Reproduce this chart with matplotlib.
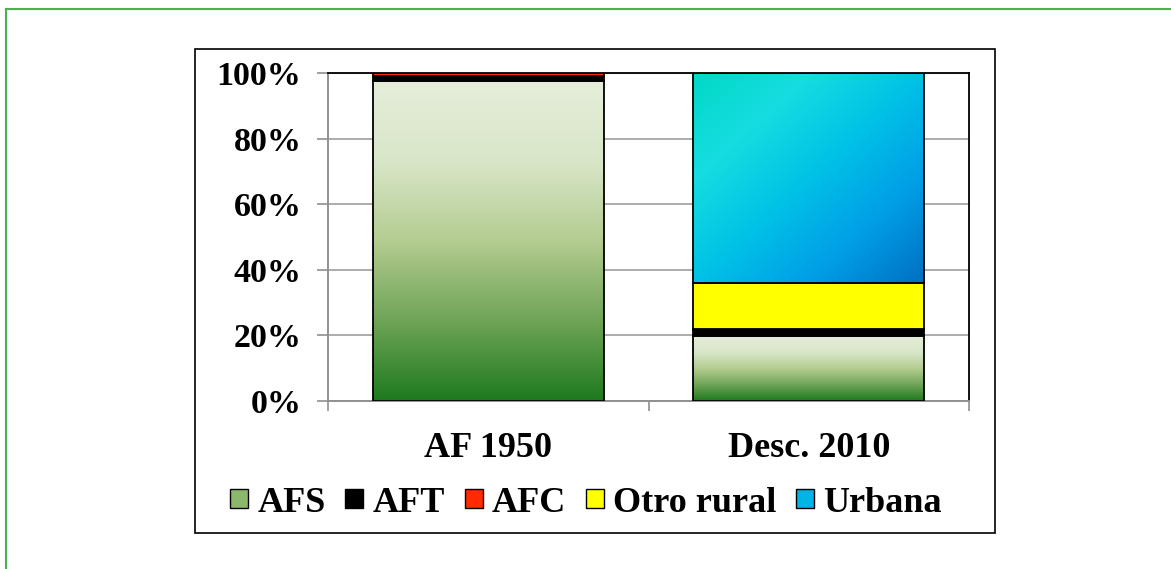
import numpy as np
import matplotlib
matplotlib.use("Agg")
import matplotlib.pyplot as plt
from matplotlib.colors import LinearSegmentedColormap
from matplotlib.patches import Patch, Rectangle
from matplotlib.lines import Line2D

# data (percent of total)
categorias = ["AF 1950", "Desc. 2010"]
afs = [97.5, 19.8]
aft = [1.5, 1.9]
afc = [1.0, 0.4]
otro_rural = [0.0, 13.8]
urbana = [0.0, 64.1]

series = ["AFS", "AFT", "AFC", "Otro rural", "Urbana"]
yticks = [0, 20, 40, 60, 80, 100]

plt.rcParams["font.family"] = ["Liberation Serif", "DejaVu Serif"]
plt.rcParams["font.weight"] = "bold"
fs = 24.5
fs_big = 26

fig = plt.figure(figsize=(11.71, 5.69), dpi=100)

# outer green frame (only left and top visible) and inner black box
fig.add_artist(Line2D([6 / 1171, 6 / 1171], [0, 1 - 9 / 569], color="#4cb050", lw=1.5,
                      transform=fig.transFigure))
fig.add_artist(Line2D([6 / 1171, 1], [1 - 9 / 569, 1 - 9 / 569], color="#4cb050", lw=1.5,
                      transform=fig.transFigure))
fig.add_artist(Rectangle((195 / 1171, 1 - 533 / 569), 800 / 1171, 484 / 569, fill=False,
                         edgecolor="black", lw=1.2, transform=fig.transFigure))

ax = fig.add_axes([328 / 1171, 1 - 401 / 569, 641 / 1171, 328 / 569])

x = np.arange(len(categorias))
w = 0.72
afs_cmap = LinearSegmentedColormap.from_list("afs", ["#1e7a1e", "#6fa457", "#b4cc90", "#d8e6c8", "#e6eeda"])
urb_cmap = LinearSegmentedColormap.from_list("urb", ["#00d9c6", "#16dde0", "#00c2e6", "#009ee6", "#0070c2"])

bottom = np.zeros(len(categorias))
colors = {"AFT": "#000000", "AFC": "#ff2a00", "Otro rural": "#ffff00"}
for name, vals in zip(series, [afs, aft, afc, otro_rural, urbana]):
    vals = np.array(vals)
    fc = colors.get(name, "none")
    bars = ax.bar(x, vals, w, bottom=bottom, facecolor=fc, edgecolor="black", lw=1.3, zorder=3)
    if name in ("AFS", "Urbana"):
        for b in bars:
            if b.get_height() <= 0:
                continue
            x0, y0 = b.get_x(), b.get_y()
            x1, y1 = x0 + b.get_width(), y0 + b.get_height()
            if name == "AFS":
                grad = np.linspace(0, 1, 256).reshape(-1, 1)
                im = ax.imshow(grad, cmap=afs_cmap, origin="lower", extent=(x0, x1, y0, y1),
                               aspect="auto", zorder=2, interpolation="bilinear")
            else:
                gx, gy = np.meshgrid(np.linspace(0, 1, 200), np.linspace(0, 1, 200))
                grad = (gx + (1 - gy)) / 2
                im = ax.imshow(grad, cmap=urb_cmap, origin="lower", extent=(x0, x1, y0, y1),
                               aspect="auto", zorder=2, interpolation="bilinear")
            im.set_clip_path(b)
    bottom = bottom + vals

ax.set_xlim(-0.5, 1.5)
ax.set_ylim(0, 100)
ax.set_yticks(yticks)
ax.set_yticklabels([f"{t}%" for t in yticks], fontsize=fs, fontweight="bold")
ax.set_xticks([-0.5, 0.5, 1.5])
ax.set_xticklabels([])
ax.set_xticks(x, minor=True)
ax.set_xticklabels(categorias, minor=True, fontsize=fs_big, fontweight="bold")
ax.tick_params(axis="x", which="minor", length=0, pad=22)
ax.tick_params(axis="x", which="major", length=7, width=1.2, color="#909090")
ax.tick_params(axis="y", length=8, width=1.2, color="#909090", pad=11)

ax.yaxis.grid(True, color="#a6a6a6", lw=1.3, zorder=0)
ax.set_axisbelow(True)
for s in ["left", "bottom"]:
    ax.spines[s].set_color("#909090")
    ax.spines[s].set_linewidth(1.4)
for s in ["top", "right"]:
    ax.spines[s].set_color("black")
    ax.spines[s].set_linewidth(1.3)

handles = [
    Patch(facecolor="#8cb86c", edgecolor="black", lw=1),
    Patch(facecolor="#000000", edgecolor="black", lw=1),
    Patch(facecolor="#ff2a00", edgecolor="black", lw=1),
    Patch(facecolor="#ffff00", edgecolor="black", lw=1),
    Patch(facecolor="#00b4e4", edgecolor="black", lw=1),
]
fig.legend(handles, series, loc="center", bbox_to_anchor=(586 / 1171, 1 - 503 / 569), ncol=5,
           frameon=False, prop={"size": fs_big, "weight": "bold"}, handlelength=0.5, handleheight=0.45,
           handletextpad=0.25, columnspacing=0.55)

fig.savefig("out.png", dpi=100)
